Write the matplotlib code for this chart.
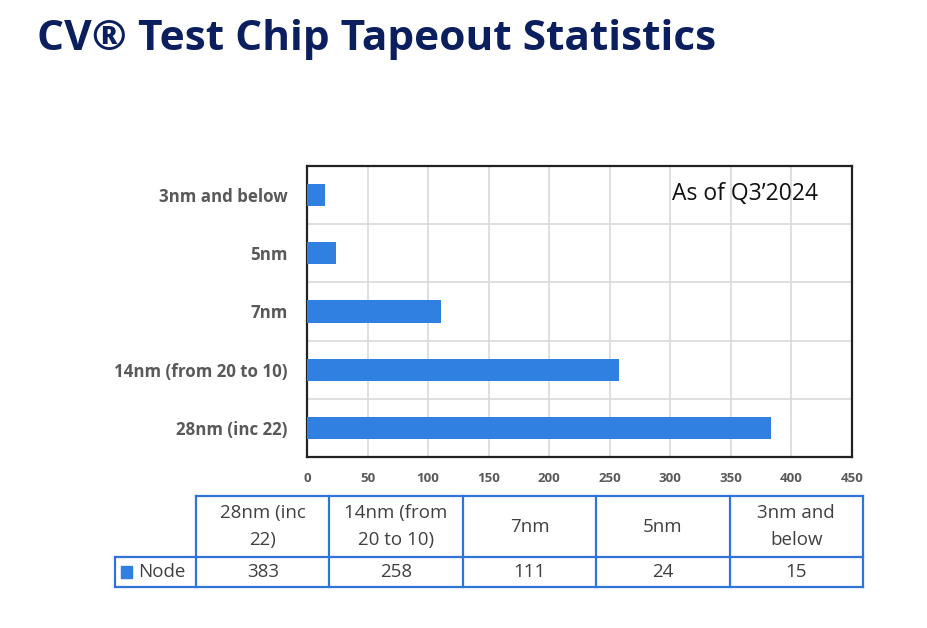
import matplotlib.pyplot as plt
from matplotlib.patches import Rectangle

nodes = ["28nm (inc 22)", "14nm (from 20 to 10)", "7nm", "5nm", "3nm and below"]
table_heads = ["28nm (inc\n22)", "14nm (from\n20 to 10)", "7nm", "5nm", "3nm and\nbelow"]
counts = [383, 258, 111, 24, 15]
series_name = "Node"
x_ticks = [0, 50, 100, 150, 200, 250, 300, 350, 400, 450]

W, H = 928, 628
bar_col = "#2f80e1"
line_col = "#2f74d8"
txt_col = "#404040"

fig = plt.figure(figsize=(W / 100, H / 100), dpi=100)

def box(x0, y0, x1, y1):
    # pixel coords -> figure fraction
    return [x0 / W, 1 - y1 / H, (x1 - x0) / W, (y1 - y0) / H]

fig.text(37 / W, 1 - 40 / H, "CV\u00ae Test Chip Tapeout Statistics", family="Open Sans",
         fontweight="bold", fontsize=30.5, color="#0b1f5e", va="center", ha="left")

ax = fig.add_axes(box(307, 166, 852, 457))
ax.barh(range(len(nodes)), counts, height=0.38, color=bar_col, zorder=3)
ax.set_xlim(0, 450)
ax.set_ylim(-0.5, len(nodes) - 0.5)
ax.set_xticks(x_ticks)
ax.set_yticks(range(len(nodes)))
ax.set_yticklabels(nodes)
ax.set_yticks([i + 0.5 for i in range(len(nodes) - 1)], minor=True)
ax.grid(axis="x", color="#d9d9d9", lw=1.2, zorder=0)
ax.grid(axis="y", which="minor", color="#d9d9d9", lw=1.2, zorder=0)
ax.tick_params(which="both", length=0)
ax.tick_params(axis="y", pad=14)
ax.tick_params(axis="x", pad=11)
for lab in ax.get_yticklabels():
    lab.set_fontfamily("Open Sans")
    lab.set_fontweight("bold")
    lab.set_fontsize(12.2)
    lab.set_color("#595959")
for lab in ax.get_xticklabels():
    lab.set_fontfamily("Open Sans")
    lab.set_fontweight("bold")
    lab.set_fontsize(9.5)
    lab.set_color("#595959")
for s in ax.spines.values():
    s.set_color("#222222")
    s.set_linewidth(1.6)
ax.text(0.67, 0.905, "As of Q3\u20192024", transform=ax.transAxes, family="Open Sans",
        fontsize=16.5, color="#111111", va="center", ha="left")

# data table below the chart
tx = fig.add_axes([0, 0, 1, 1])
tx.set_xlim(0, W)
tx.set_ylim(H, 0)
tx.axis("off")
x_left, x0, x1 = 115, 196, 863
y_top, y_mid, y_bot = 496, 557, 587
cw = (x1 - x0) / len(nodes)
kw = dict(color=line_col, lw=1.6)
tx.plot([x0, x1], [y_top, y_top], **kw)
tx.plot([x_left, x1], [y_mid, y_mid], **kw)
tx.plot([x_left, x1], [y_bot, y_bot], **kw)
tx.plot([x_left, x_left], [y_mid, y_bot], **kw)
for i in range(len(nodes) + 1):
    tx.plot([x0 + i * cw, x0 + i * cw], [y_top, y_bot], **kw)
for i, (h, v) in enumerate(zip(table_heads, counts)):
    cx = x0 + (i + 0.5) * cw
    tx.text(cx, (y_top + y_mid) / 2, h, ha="center", va="center", family="Open Sans",
            fontsize=13.5, color=txt_col, linespacing=1.6)
    tx.text(cx, (y_mid + y_bot) / 2, str(v), ha="center", va="center", family="Open Sans",
            fontsize=13.5, color=txt_col)
tx.add_patch(Rectangle((121, 566), 11, 12, color=bar_col))
tx.text(138, (y_mid + y_bot) / 2, series_name, ha="left", va="center", family="Open Sans",
        fontsize=13.5, color=txt_col)

fig.savefig("out.png", dpi=100, facecolor="white")
